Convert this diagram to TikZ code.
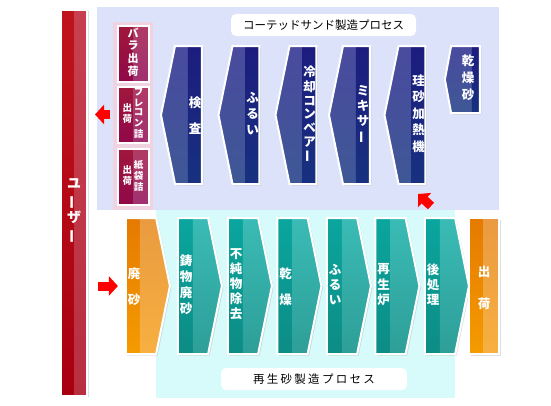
\documentclass[tikz,border=0pt]{standalone}
\usepackage{fontspec}
\usepackage{graphicx}
\usetikzlibrary{arrows.meta, positioning, calc, shapes.symbols, shadows}
\newfontfamily\jp{Noto Sans CJK JP}
\definecolor{coatbg}{HTML}{DCE2FA}
\definecolor{regenbg}{HTML}{D7FAFA}
\definecolor{shipbg}{HTML}{F0D3E0}
\definecolor{blueA}{HTML}{4A4A9E}
\definecolor{blueB}{HTML}{3E5896}
\definecolor{blueC}{HTML}{1C1C7E}
\definecolor{blueD}{HTML}{17317F}
\definecolor{tealA}{HTML}{0AA69E}
\definecolor{tealB}{HTML}{0C8C85}
\definecolor{tealC}{HTML}{3ABBB5}
\definecolor{tealD}{HTML}{2E9E98}
\definecolor{orangeA}{HTML}{E57A00}
\definecolor{orangeB}{HTML}{F59B00}
\definecolor{orangeC}{HTML}{EA9A40}
\definecolor{orangeD}{HTML}{F7B040}
\definecolor{plumA}{HTML}{A0183C}
\definecolor{plumB}{HTML}{900848}
\definecolor{plumC}{HTML}{B03C64}
\definecolor{plumD}{HTML}{A03070}
\definecolor{userA}{HTML}{C0141C}
\definecolor{userB}{HTML}{A80010}
\definecolor{userC}{HTML}{C84050}
\definecolor{userD}{HTML}{B83040}
\newcommand{\vbar}{\rotatebox[origin=c]{90}{ー}}
\newcommand{\tcol}[1]{\begin{tabular}{@{}c@{}}#1\end{tabular}}
\newcommand{\rcol}[2][13pt]{\hspace*{#1}\tcol{#2}}
\newcommand{\lcol}[2][14pt]{\tcol{#2}\hspace*{#1}}

\begin{document}
\begin{tikzpicture}[x=1pt, y=-1pt,
  every node/.style={text=white, align=center, inner sep=0pt},
  lines/.style={font=\jp\bfseries\fontsize{12.5}{#1}\selectfont},
  frame/.style={draw=white, line width=2pt,
                drop shadow={shadow xshift=1.5pt, shadow yshift=-1.5pt, opacity=0.25}},
  twotone/.style n args={5}{path picture={
      \shade[top color=#1, bottom color=#2] (path picture bounding box.north west)
          rectangle (path picture bounding box.south east);
      \shade[top color=#3, bottom color=#4] ([xshift=#5]path picture bounding box.north west)
          rectangle (path picture bounding box.south east);}},
  stepup/.style={frame, signal, signal to=west, signal pointer angle=157,
                 minimum width=41pt, minimum height=138pt, lines=16,
                 twotone={blueA}{blueB}{blueC}{blueD}{27pt}},
  stepdown/.style={frame, signal, signal to=east, signal pointer angle=157,
                   minimum width=44pt, minimum height=136pt, lines=15,
                   twotone={tealA}{tealB}{tealC}{tealD}{15pt}},
  orangebox/.style={twotone={orangeA}{orangeB}{orangeC}{orangeD}{14pt}},
  shipbox/.style={frame, rectangle, minimum width=31pt, minimum height=56pt,
                  font=\jp\bfseries\fontsize{9.5}{9.6}\selectfont,
                  twotone={plumA}{plumB}{plumC}{plumD}{16pt}},
  title/.style={fill=white, rounded corners=5pt, minimum height=22pt, text=black,
                font=\jp\fontsize{11.5}{13}\selectfont},
  redarr/.style={draw=red, line width=9pt, -{Triangle[length=9pt, width=19pt]}}
]
  \useasboundingbox (0,0) rectangle (551,405);
  \fill[coatbg] (97,7) rectangle (499,210);
  \fill[regenbg] (156,210) rectangle (455,398);
  \fill[shipbg] (113,22) rectangle (153,210);

  \node[frame, minimum width=26pt, minimum height=386pt,
        font=\jp\bfseries\fontsize{14}{17}\selectfont,
        twotone={userA}{userB}{userC}{userD}{13pt}] (user) at (74,202.5)
        {\raisebox{-12pt}[0pt][0pt]{\tcol{ユ\\\vbar\\ザ\\\vbar}}};

  \node[shipbox] (bara) at (133,53.5)
        {\fontsize{11}{12.5}\selectfont\tcol{バ\\ラ\\出\\荷}};
  \node[shipbox] (flecon) at (133,114.5) {\tcol{出\\荷}\,\tcol{フ\\レ\\コ\\ン\\詰}};
  \node[shipbox] (paper) at (133,176.5) {\tcol{出\\荷}\,\tcol{紙\\袋\\詰}};

  \node[title, minimum width=185pt] (coattitle) at (323.5,25) {コーテッドサンド製造プロセス};
  \node[title, minimum width=186pt] (regentitle) at (314,379)
        {\addfontfeature{LetterSpace=20}再生砂製造プロセス};

  \node[stepup, lines=26] (kensa) at (188.5,115) {\rcol{検\\査}};
  \node[stepup] (furui) at (246,115) {\rcol{ふ\\る\\い}};
  \node[stepup, lines=13.5] (cooler) at (303,115) {\rcol{冷\\却\\コ\\ン\\ベ\\ア\\\vbar}};
  \node[stepup, lines=15] (mixer) at (356.5,115) {\rcol{ミ\\キ\\サ\\\vbar}};
  \node[stepup, lines=16.5] (keisa) at (412,115) {\rcol{珪\\砂\\加\\熱\\機}};
  \node[stepup, lines=17, minimum width=35pt, minimum height=67pt,
        signal pointer angle=159] (kansosa) at (465.5,79.5) {\rcol[5pt]{乾\\燥\\砂}};

  \node[stepdown, orangebox, lines=26] (haisa) at (141,286) {\lcol{廃\\砂}};
  \node[stepdown, lines=16] (imono) at (193,286) {\lcol{鋳\\物\\廃\\砂}};
  \node[stepdown, lines=14.5] (impure) at (243,286) {\lcol{不\\純\\物\\除\\去}};
  \node[stepdown, lines=26] (kanso) at (292.5,286) {\lcol{乾\\燥}};
  \node[stepdown] (furui2) at (342,286) {\lcol{ふ\\る\\い}};
  \node[stepdown] (saisei) at (390.5,286) {\lcol{再\\生\\炉}};
  \node[stepdown] (atoshori) at (440,286) {\lcol{後\\処\\理}};
  \node[frame, orangebox, lines=32, minimum width=30pt, minimum height=136pt]
        (shukka) at (484,286) {\tcol{出\\荷}};

  \draw[redarr] ($(flecon.west)+(-6.5,0)$) -- ($(user.east |- flecon.west)+(7,0)$);
  \draw[redarr] ($(user.east |- haisa.west)+(10,0)$) -- ($(haisa.west)+(-7,0)$);
  \draw[redarr] ($(atoshori.north)+(-9,-11)$) -- ($(keisa.south)+(6,9)$);
\end{tikzpicture}
\end{document}
